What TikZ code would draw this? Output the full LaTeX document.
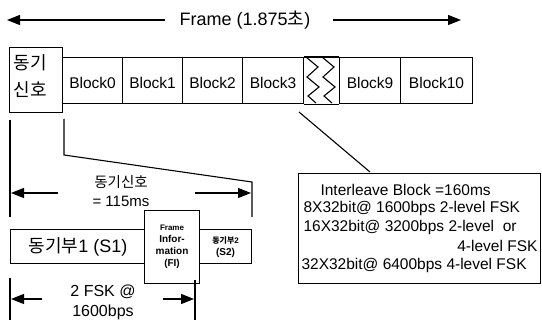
\documentclass[tikz,border=0pt]{standalone}
\usepackage{fontspec}
\setmainfont{Liberation Sans}
\newfontfamily\kr{Noto Sans CJK KR}
\usetikzlibrary{arrows.meta}
\begin{document}
\begin{tikzpicture}[x=1pt,y=-1pt, line width=1.1pt,
  box/.style={draw, inner sep=0pt, anchor=north west},
  lbl/.style={inner sep=0pt},
  arr/.style={-{Triangle[length=13pt,width=10pt]}}]
\useasboundingbox (0,0) rectangle (542,320);
% Frame arrow
\node[lbl] (frame) at (245,20) {\fontsize{18}{20}\selectfont Frame (1.875{\kr 초})};
\coordinate (fa1) at (165,20); \coordinate (fl) at (7,20);
\coordinate (fa2) at (333,20); \coordinate (fr) at (461,20);
\draw[arr] (fa1) -- (fl);
\draw[arr] (fa2) -- (fr);
% sync box
\node[box, minimum width=53pt, minimum height=65pt] (sync) at (9,47) {};
\node[lbl, anchor=west] (s1t) at (13,63) {\fontsize{18}{20}\selectfont\kr 동기};
\node[lbl, anchor=west] (s2t) at (13,90) {\fontsize{18}{20}\selectfont\kr 신호};
% blocks
\node[box, minimum width=60pt, minimum height=46pt] (b0) at (62,57) {};
\node[box, minimum width=60pt, minimum height=46pt] (b1) at (122,57) {};
\node[box, minimum width=60pt, minimum height=46pt] (b2) at (182,57) {};
\node[box, minimum width=61pt, minimum height=46pt] (b3) at (242,57) {};
\node[box, minimum width=61pt, minimum height=46pt] (b9) at (339,57) {};
\node[box, minimum width=72pt, minimum height=46pt] (b10) at (400,57) {};
\foreach \n/\t in {b0/Block0,b1/Block1,b2/Block2,b3/Block3,b9/Block9,b10/Block10}
  \node[lbl] at ([yshift=-2pt]\n.center) {\fontsize{15.5}{17}\selectfont \t};
% break
\draw (b3.north east) -- (b9.north west);
\draw (b3.south east) -- (b9.south west);
\draw (306,57) -- (318,67) -- (307,77) -- (319,87) -- (308,96) -- (316,103);
\draw (322,57) -- (334,67) -- (323,77) -- (335,87) -- (324,96) -- (332,103);
% expansion lines
\coordinate (c1) at (64,119); \coordinate (c2) at (64,155);
\coordinate (c3) at (252,182); \coordinate (c4) at (252,217);
\draw (c1) -- (c2) -- (c3) -- (c4);
\coordinate (c5) at (10,120); \coordinate (c6) at (10,217);
\draw (c5) -- (c6);
\coordinate (a1) at (58,193); \coordinate (a1e) at (11,193);
\coordinate (a2) at (195,193); \coordinate (a2e) at (251,193);
\draw[arr] (a1) -- (a1e);
\draw[arr] (a2) -- (a2e);
\node[lbl] (synct) at (121,182) {\fontsize{14.5}{16}\selectfont\kr 동기신호};
\node[lbl] (syncms) at (121,201) {\fontsize{15}{16}\selectfont = 115ms};
% lower boxes
\node[box, minimum width=135pt, minimum height=34pt] (S1) at (10,229) {};
\node[lbl] at (S1.center) {\fontsize{18}{20}\selectfont{\kr 동기부}1 (S1)};
\node[box, minimum width=52pt, minimum height=34pt] (S2) at (199,229) {};
\node[box, fill=white, minimum width=55pt, minimum height=73pt] (FI) at (144,210) {};
\node[lbl, align=center, font=\bfseries] at (FI.center)
  {\fontsize{8}{14}\selectfont Frame\\Infor-\\mation\\(FI)};
\node[lbl, align=center, font=\bfseries] at ([yshift=-1pt]S2.center)
  {\fontsize{8}{15}\selectfont{\kr 동기부}2\\(S2)};
% bottom arrow
\coordinate (d1) at (10,278); \coordinate (d2) at (10,320);
\coordinate (d3) at (195,280); \coordinate (d4) at (195,320);
\draw (d1) -- (d2);
\draw (d3) -- (d4);
\coordinate (e1) at (42,299); \coordinate (e1e) at (11,299);
\coordinate (e2) at (163,299); \coordinate (e2e) at (194,299);
\draw[arr] (e1) -- (e1e);
\draw[arr] (e2) -- (e2e);
\node[lbl] (fsk1) at (103,292) {\fontsize{16}{17}\selectfont 2 FSK @};
\node[lbl] (fsk2) at (103,312) {\fontsize{16}{17}\selectfont 1600bps};
% interleave box
\node[box, minimum width=242pt, minimum height=110pt] (IL) at (298,173) {};
\coordinate (g1) at (299,112); \coordinate (g2) at (370,172);
\draw (g1) -- (g2);
\begin{scope}[every node/.style={lbl, anchor=west, font=\fontsize{15.5}{16}\selectfont}]
\node (l1) at (320,190) {Interleave Block =160ms};
\node (l2) at (303,208) {8X32bit@ 1600bps 2-level FSK};
\node (l3) at (303,227) {16X32bit@ 3200bps 2-level\ \ or};
\node[anchor=east] (l4) at (538,246) {4-level FSK};
\node (l5) at (301,265) {32X32bit@ 6400bps 4-level FSK};
\end{scope}
\end{tikzpicture}
\end{document}
